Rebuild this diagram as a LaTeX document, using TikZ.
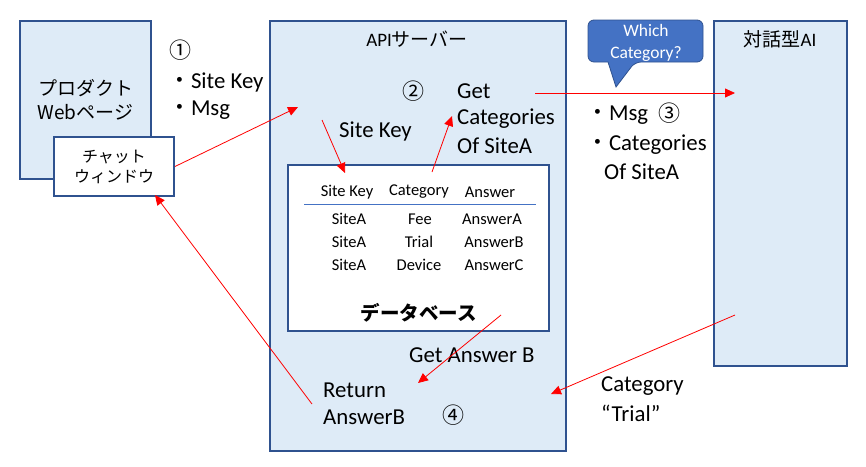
\documentclass[tikz,border=0pt]{standalone}
\usepackage{fontspec}
\setmainfont{Carlito}
\newfontfamily\jp{Noto Sans CJK JP}
\usetikzlibrary{arrows.meta}
\definecolor{boxfill}{HTML}{DEEBF7}
\definecolor{boxline}{HTML}{2F528F}
\definecolor{accent}{HTML}{4472C4}
\begin{document}
\begin{tikzpicture}[x=1pt,y=-1pt,
  box/.style={draw=boxline,line width=2pt,fill=boxfill,inner sep=0pt},
  wbox/.style={draw=boxline,line width=2pt,fill=white,inner sep=0pt},
  lbl/.style={font=\fontsize{22.8}{27}\selectfont,anchor=west,inner sep=0pt},
  num/.style={font=\jp\fontsize{22}{26}\selectfont,inner sep=0pt},
  tbl/.style={font=\fontsize{16.5}{20}\selectfont,inner sep=0pt},
  title/.style={font=\fontsize{19}{23}\selectfont,inner sep=0pt},
  flow/.style={draw=red,line width=0.8pt,-{Triangle[length=10pt,width=9pt]}},
]
\useasboundingbox (0,0) rectangle (866,466);
% boxes
\node[box,minimum width=131pt,minimum height=158pt,align=center,
  font=\jp\fontsize{19}{24}\selectfont] (web) at (85.5,100) {プロダクト\\Webページ};
\node[wbox,minimum width=120pt,minimum height=59pt,align=center,
  font=\jp\fontsize{16}{20}\selectfont] (chat) at (114,166.5) {チャット\\ウィンドウ};
\node[box,minimum width=296pt,minimum height=430pt] (api) at (418,236) {};
\node[wbox,minimum width=261pt,minimum height=166pt] (db) at (418.5,248) {};
\node[box,minimum width=133pt,minimum height=345pt] (ai) at (780.5,193.5) {};
\node[title] (apilbl) at (417,39) {API{\jp サーバー}};
\node[title] (ailbl) at (780,39) {{\jp 対話型}AI};
% table
\node[tbl] (h1) at (347,192) {Site Key};
\node[tbl] (h2) at (419,192) {Category};
\node[tbl] (h3) at (490,192) {Answer};
\coordinate (tl) at (304,204);
\coordinate (tr) at (536,204);
\draw[accent,line width=1pt] (tl) -- (tr);
\node[tbl] (r1a) at (349,219) {SiteA};
\node[tbl] (r1b) at (420,219) {Fee};
\node[tbl] (r1c) at (492,219) {AnswerA};
\node[tbl] (r2a) at (349,242) {SiteA};
\node[tbl] (r2b) at (419,242) {Trial};
\node[tbl] (r2c) at (494,242) {AnswerB};
\node[tbl] (r3a) at (349,265) {SiteA};
\node[tbl] (r3b) at (419,265) {Device};
\node[tbl] (r3c) at (494,265) {AnswerC};
\node[inner sep=0pt,font=\jp\bfseries\fontsize{19.5}{23}\selectfont] (dblbl) at (419,313) {データベース};
% callout
\draw[fill=accent,draw=boxline,line width=0.8pt] (616,87) -- (608,62) [rounded corners=6pt] -- (588,62) -- (588,20) -- (703,20) -- (703,62) -- (635,62) [sharp corners] -- cycle;
\node[inner sep=0pt,align=center,text=white,font=\fontsize{17.5}{22}\selectfont] (ctext) at (646,42.5) {Which\\Category?};
% labels
\node[num] (n1) at (180,50) {①};
\node[lbl] (b1) at (168,82) {{\jp ・}Site Key};
\node[lbl] (b2) at (168,110) {{\jp ・}Msg};
\node[num] (n2) at (413,91) {②};
\node[lbl] (g1) at (457,91) {Get};
\node[lbl] (g2) at (457,119) {Categories};
\node[lbl] (g3) at (457,146) {Of SiteA};
\node[lbl] (sk) at (339,131) {Site Key};
\node[lbl] (m1) at (586,115) {{\jp ・}Msg};
\node[num] (n3) at (669,113) {③};
\node[lbl] (m2) at (586,145) {{\jp ・}Categories};
\node[lbl] (m3) at (604,172) {Of SiteA};
\node[lbl] (ga) at (409,355) {Get Answer B};
\node[lbl] (ret1) at (323,390) {Return};
\node[lbl] (ret2) at (323,417) {AnswerB};
\node[num] (n4) at (453,415) {④};
\node[lbl] (cat1) at (601,386) {Category};
\node[lbl] (cat2) at (601,413) {“Trial”};
% arrows
\coordinate (e1) at (298,107);
\draw[flow] (chat.east) -- (e1);
\coordinate (s2) at (322,120);
\coordinate (e2) at (345,173);
\draw[flow] (s2) -- (e2);
\coordinate (s3) at (432,172);
\coordinate (e3) at (452,116);
\draw[flow] (s3) -- (e3);
\coordinate (s4) at (535,93);
\coordinate (e4) at (735,93);
\draw[flow] (s4) -- (e4);
\coordinate (s5) at (735,315);
\coordinate (e5) at (551,394);
\draw[flow] (s5) -- (e5);
\coordinate (s6) at (501,315);
\coordinate (e6) at (418,383);
\draw[flow] (s6) -- (e6);
\coordinate (s7) at (312,404);
\coordinate (e7) at (155,195);
\draw[flow] (s7) -- (e7);
\end{tikzpicture}
\end{document}
